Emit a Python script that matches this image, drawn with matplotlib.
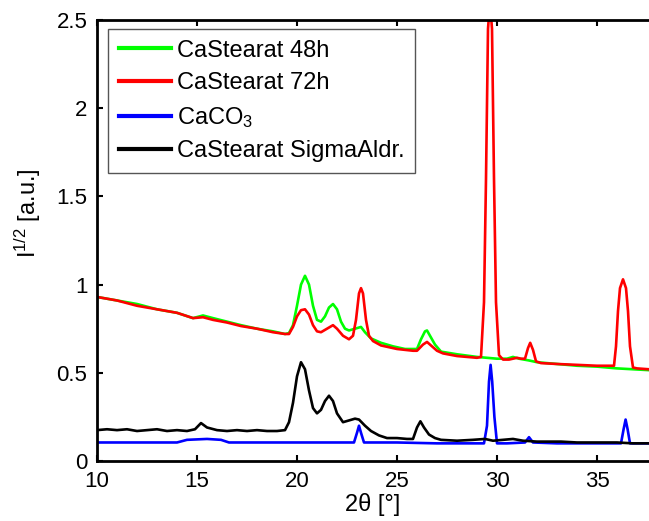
import matplotlib.pyplot as plt
import numpy as np

plt.rcParams['font.family'] = ['Liberation Sans', 'DejaVu Sans']
plt.rcParams['mathtext.fontset'] = 'custom'
plt.rcParams['mathtext.rm'] = 'Liberation Sans'
plt.rcParams['mathtext.it'] = 'Liberation Sans'

# values
x_48h = [10.0, 11.0, 12.0, 13.0, 14.0, 14.8, 15.3, 15.8, 16.5, 17.2, 18.0, 18.8, 19.4,
         19.6, 19.8, 20.0, 20.2, 20.4, 20.6, 20.8, 21.0, 21.2, 21.4, 21.6, 21.8, 22.0,
         22.2, 22.4, 22.6, 22.9, 23.2, 23.4, 23.7, 24.2, 24.8, 25.4, 26.0, 26.2, 26.4,
         26.5, 26.7, 26.9, 27.2, 28.0, 29.0, 30.0, 30.5, 30.8, 31.1, 31.6, 32.0, 33.0,
         34.0, 35.0, 36.0, 36.8, 37.6]
y_48h = [0.93, 0.91, 0.89, 0.86, 0.84, 0.81, 0.825, 0.81, 0.79, 0.77, 0.75, 0.735, 0.72,
         0.725, 0.77, 0.88, 1.0, 1.05, 1.0, 0.88, 0.80, 0.79, 0.82, 0.87, 0.89, 0.86,
         0.79, 0.75, 0.74, 0.75, 0.76, 0.73, 0.695, 0.67, 0.65, 0.635, 0.635, 0.69, 0.735,
         0.74, 0.70, 0.66, 0.62, 0.605, 0.59, 0.58, 0.58, 0.59, 0.58, 0.57, 0.56, 0.55,
         0.54, 0.535, 0.525, 0.52, 0.515]

x_72h = [10.0, 11.0, 12.0, 13.0, 14.0, 14.8, 15.3, 15.8, 16.5, 17.2, 18.0, 18.8, 19.4,
         19.6, 19.8, 20.0, 20.2, 20.4, 20.6, 20.8, 21.0, 21.2, 21.5, 21.8, 22.0, 22.3,
         22.6, 22.8, 22.95, 23.1, 23.2, 23.3, 23.45, 23.6, 23.8, 24.2, 25.0, 25.8, 26.0,
         26.3, 26.5, 26.7, 27.0, 27.3, 28.0, 29.0, 29.2, 29.35, 29.45, 29.55, 29.65,
         29.75, 29.85, 29.95, 30.1, 30.3, 30.6, 31.0, 31.2, 31.4, 31.55, 31.66, 31.8,
         31.95, 32.2, 33.0, 34.0, 35.0, 35.85, 35.95, 36.05, 36.15, 36.3, 36.45, 36.55,
         36.65, 36.8, 37.0, 37.6]
y_72h = [0.93, 0.91, 0.88, 0.86, 0.84, 0.81, 0.815, 0.80, 0.785, 0.765, 0.75, 0.73, 0.72,
         0.72, 0.76, 0.82, 0.855, 0.86, 0.83, 0.77, 0.735, 0.73, 0.75, 0.77, 0.75, 0.71,
         0.69, 0.71, 0.80, 0.95, 0.98, 0.95, 0.80, 0.71, 0.68, 0.655, 0.635, 0.625, 0.625,
         0.66, 0.675, 0.655, 0.625, 0.61, 0.595, 0.585, 0.59, 0.9, 1.6, 2.45, 2.6,
         2.45, 1.6, 0.9, 0.6, 0.575, 0.575, 0.585, 0.58, 0.58, 0.64, 0.67, 0.63,
         0.565, 0.555, 0.55, 0.545, 0.54, 0.54, 0.65, 0.85, 0.98, 1.03, 0.98, 0.85,
         0.65, 0.53, 0.525, 0.52]

x_caco3 = [10.0, 12.0, 14.0, 14.5, 15.5, 16.2, 16.6, 18.0, 20.0, 22.0, 22.85, 23.0, 23.1,
           23.2, 23.35, 25.0, 27.0, 29.0, 29.35, 29.5, 29.6, 29.68, 29.76, 29.87, 30.0,
           30.5, 31.4, 31.6, 31.8, 33.0, 35.0, 36.2, 36.33, 36.43, 36.53, 36.65, 37.6]
y_caco3 = [0.105, 0.105, 0.105, 0.12, 0.125, 0.12, 0.105, 0.105, 0.105, 0.105, 0.105, 0.16, 0.20,
           0.16, 0.105, 0.105, 0.10, 0.10, 0.10, 0.20, 0.45, 0.545, 0.45, 0.25, 0.10,
           0.10, 0.105, 0.135, 0.105, 0.10, 0.10, 0.10, 0.18, 0.235, 0.18, 0.10, 0.10]

x_sigma = [10.0, 10.5, 11.0, 11.5, 12.0, 12.5, 13.0, 13.5, 14.0, 14.5, 14.9, 15.2, 15.5,
           16.0, 16.5, 17.0, 17.5, 18.0, 18.5, 19.0, 19.4, 19.6, 19.8, 20.0, 20.2, 20.4,
           20.6, 20.8, 21.0, 21.2, 21.4, 21.6, 21.8, 22.0, 22.3, 22.6, 22.9, 23.1, 23.4,
           23.7, 24.1, 24.5, 25.0, 25.5, 25.8, 26.0, 26.17, 26.35, 26.6, 26.9, 27.2, 28.0,
           28.8, 29.4, 29.8, 30.3, 30.8, 31.3, 32.0, 33.2, 34.0, 35.0, 36.0, 36.8, 37.6]
y_sigma = [0.175, 0.18, 0.175, 0.18, 0.17, 0.175, 0.18, 0.17, 0.175, 0.17, 0.18, 0.215, 0.19,
           0.175, 0.17, 0.175, 0.17, 0.175, 0.17, 0.17, 0.175, 0.22, 0.33, 0.48, 0.56, 0.52,
           0.40, 0.30, 0.27, 0.29, 0.34, 0.37, 0.34, 0.27, 0.22, 0.23, 0.24, 0.235, 0.20,
           0.17, 0.145, 0.13, 0.13, 0.125, 0.125, 0.19, 0.225, 0.19, 0.15, 0.13, 0.12, 0.115,
           0.12, 0.125, 0.115, 0.12, 0.125, 0.115, 0.11, 0.11, 0.105, 0.105, 0.105, 0.10, 0.10]

fig = plt.figure(figsize=(6.49, 5.21), dpi=100)
ax = fig.add_axes([97 / 649, 60 / 521, 1 - 97 / 649, 441 / 521])

lw = 1.9
ax.plot(x_48h, y_48h, color='#00ff00', lw=lw, label='CaStearat 48h')
ax.plot(x_72h, y_72h, color='#ff0000', lw=lw, label='CaStearat 72h')
ax.plot(x_caco3, y_caco3, color='#0000ff', lw=lw, label='CaCO$_3$')
ax.plot(x_sigma, y_sigma, color='black', lw=lw, label='CaStearat SigmaAldr.')

ax.set_xlim(10, 37.6)
ax.set_ylim(0, 2.5)
ax.set_xticks([10, 15, 20, 25, 30, 35])
ax.set_yticks([0, 0.5, 1, 1.5, 2, 2.5])
ax.set_yticklabels(['0', '0.5', '1', '1.5', '2', '2.5'])
ax.tick_params(direction='in', length=4, width=1.5, labelsize=16, top=True, pad=7)
ax.tick_params(axis='x', pad=7)
for side in ['left', 'bottom', 'top']:
    ax.spines[side].set_linewidth(2)
ax.spines['right'].set_visible(False)

ax.set_xlabel('2θ [°]', fontsize=17, labelpad=1)
ax.set_ylabel('I$^{1/2}$ [a.u.]', fontsize=17)
ax.yaxis.set_label_coords(-0.098, 0.562)

leg = ax.legend(loc='upper left', bbox_to_anchor=(108 / 649, 1 - 29 / 521),
                bbox_transform=fig.transFigure, borderaxespad=0, fontsize=17,
                handlelength=2.23, handletextpad=0.25, labelspacing=0.45, borderpad=0.45,
                fancybox=False, framealpha=1)
leg.get_frame().set_edgecolor('#555555')
leg.get_frame().set_linewidth(1)
for line in leg.get_lines():
    line.set_linewidth(3)

fig.savefig('out.png', dpi=100)
